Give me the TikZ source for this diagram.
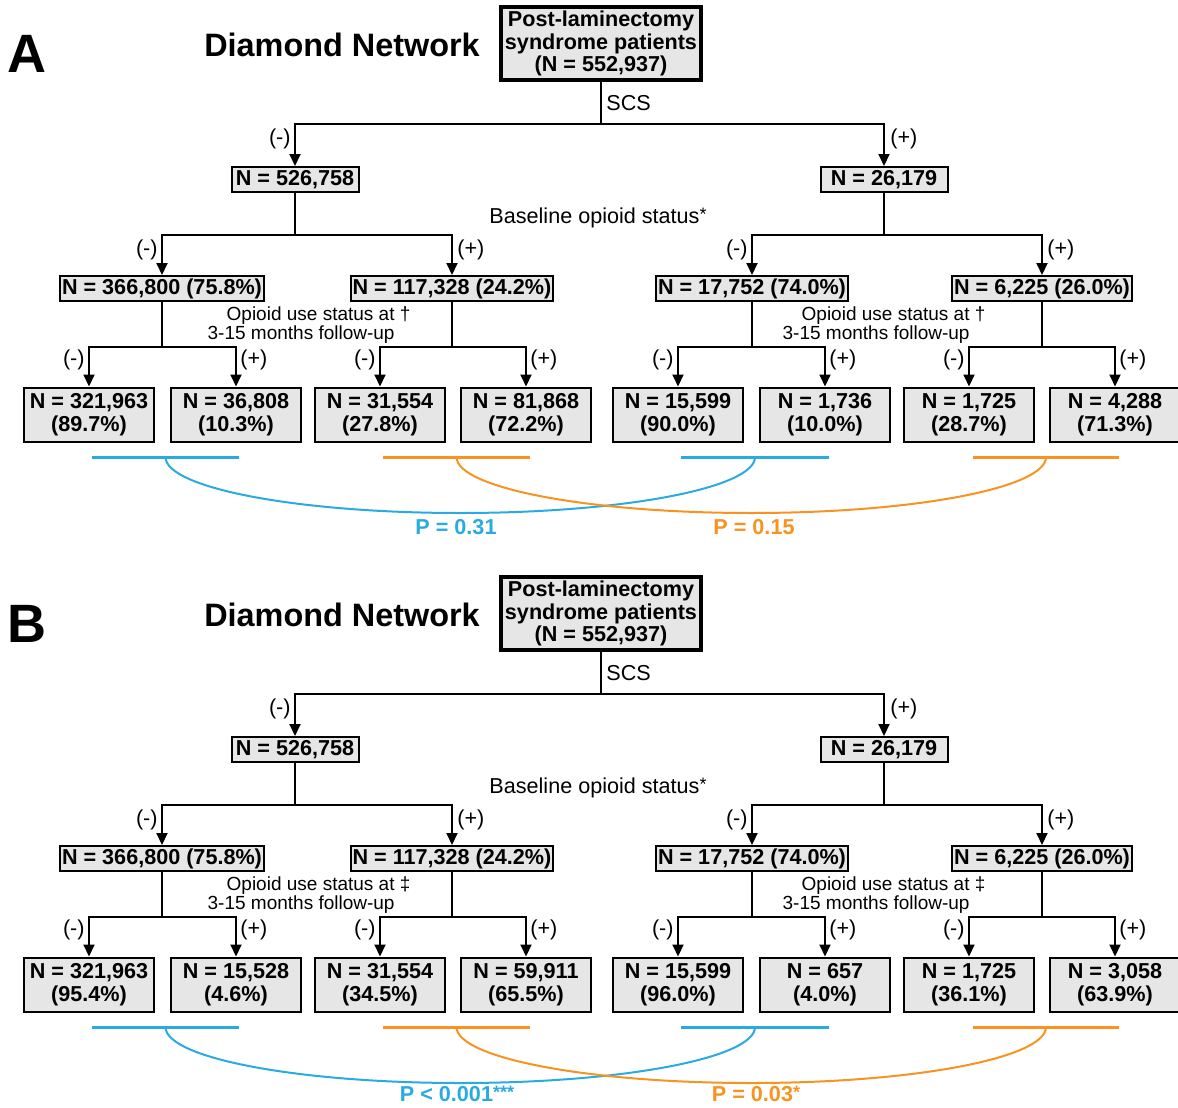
\documentclass[tikz,border=0pt]{standalone}
\usepackage{fontspec}
\setmainfont{Liberation Sans}
\usetikzlibrary{arrows.meta}

\definecolor{boxgray}{HTML}{E6E6E6}
\definecolor{pblue}{HTML}{29ABE2}
\definecolor{porange}{HTML}{F7931E}

\newcommand\upstar[1]{\raisebox{1.8pt}{\fontsize{9}{9}\selectfont #1}}

\tikzset{
	box/.style={draw, fill=boxgray, line width=1pt, inner xsep=1pt, inner ysep=0pt,
		minimum height=12.5pt, font=\fontsize{10.8}{11.2}\selectfont\bfseries},
	scsbox/.style={box, minimum width=63.5pt},
	leaf/.style={box, align=center, minimum width=65pt, minimum height=27pt},
	rootbox/.style={box, align=center, line width=1.6pt, minimum width=100pt, minimum height=36.5pt},
	link/.style={line width=1pt},
	arr/.style={link, -{Triangle[length=6pt,width=5.5pt]}},
	sign/.style={inner sep=0pt, font=\fontsize{10.8}{12}\selectfont},
	note/.style={inner sep=0pt, align=right, font=\fontsize{9.5}{8.5}\selectfont},
	tag/.style={inner sep=0pt, font=\fontsize{27}{30}\selectfont\bfseries},
	title/.style={inner sep=0pt, font=\fontsize{16.2}{18}\selectfont\bfseries},
	pval/.style={inner sep=0pt, font=\fontsize{10.8}{12}\selectfont\bfseries},
	bar/.style={line width=1.5pt},
	pline/.style={line width=1pt}
}

\begin{document}
\begin{tikzpicture}[x=0.5pt, y=-0.5pt]
	\useasboundingbox (0,0) rectangle (1178,1108);

	% shared part of both panels
	\foreach \p/\dy/\mk in {A/0/†, B/570/‡}{
	\begin{scope}[shift={(0,\dy)}]
		\node[tag] (\p-tag) at (27,54) {\p};
		\node[title] (\p-title) at (342,45) {Diamond Network};
		\node[rootbox] (\p-root) at (601,43.5) {Post-laminectomy\\syndrome patients\\(N = 552,937)};
		\node[sign, anchor=west] (\p-scs) at (606,103) {SCS};
		\coordinate (\p-j0) at (601,124);

		\node[scsbox] (\p-n) at (295,179.5) {N = 526,758};
		\node[scsbox] (\p-p) at (884,179.5) {N = 26,179};
		\node[sign, anchor=east] (\p-sn) at (291,139) {(-)};
		\node[sign, anchor=west] (\p-sp) at (890,139) {(+)};
		\node[sign] (\p-base) at (594.5,218) {Baseline opioid status\rlap{\upstar{*}}};
		\coordinate (\p-jn) at (295,235);
		\coordinate (\p-jp) at (884,235);

		\node[box] (\p-b1) at (162,288.5) {N = 366,800 (75.8\%)};
		\node[box] (\p-b2) at (452,288.5) {N = 117,328 (24.2\%)};
		\node[box] (\p-b3) at (752,288.5) {N = 17,752 (74.0\%)};
		\node[box] (\p-b4) at (1042,288.5) {N = 6,225 (26.0\%)};
		\foreach \k/\x in {1/162, 2/452, 3/752, 4/1042}
			\coordinate (\p-k\k) at (\x,347);
		\node[sign, anchor=east] (\p-s1) at (158,250) {(-)};
		\node[sign, anchor=west] (\p-s2) at (457,250) {(+)};
		\node[sign, anchor=east] (\p-s3) at (748,250) {(-)};
		\node[sign, anchor=west] (\p-s4) at (1047,250) {(+)};
		\node[note, anchor=east] (\p-fl) at (395,325) {Opioid use status at\rlap{~\mk}\\3-15 months follow-up};
		\node[note, anchor=east] (\p-fr) at (970,325) {Opioid use status at\rlap{~\mk}\\3-15 months follow-up};

		\draw[link] (\p-root) -- (\p-j0);
		\draw[arr] (\p-j0) -| (\p-n);
		\draw[arr] (\p-j0) -| (\p-p);
		\draw[link] (\p-n) -- (\p-jn);
		\draw[link] (\p-p) -- (\p-jp);
		\draw[arr] (\p-jn) -| (\p-b1);
		\draw[arr] (\p-jn) -| (\p-b2);
		\draw[arr] (\p-jp) -| (\p-b3);
		\draw[arr] (\p-jp) -| (\p-b4);
		\foreach \k in {1,...,4}
			\draw[link] (\p-b\k) -- (\p-k\k);

		% comparison bars and arcs
		\coordinate (\p-m1) at (165.5,457);
		\coordinate (\p-m2) at (456.5,457);
		\draw[bar, pblue] (92,457) -- (239,457);
		\draw[bar, porange] (383,457) -- (530,457);
		\draw[bar, pblue] (681,457) -- (829,457);
		\draw[bar, porange] (973,457) -- (1119,457);
		\draw[pline, pblue] (\p-m1) arc[start angle=180, end angle=0, x radius=294.75, y radius=56];
		\draw[pline, porange] (\p-m2) arc[start angle=180, end angle=0, x radius=294.75, y radius=56];
	\end{scope}
	}

	% follow-up groups
	\foreach \p/\dy/\i/\x/\k/\n/\pc in {
		A/0/1/89/1/{321,963}/89.7, A/0/2/236/1/{36,808}/10.3,
		A/0/3/380/2/{31,554}/27.8, A/0/4/526/2/{81,868}/72.2,
		A/0/5/678/3/{15,599}/90.0, A/0/6/825/3/{1,736}/10.0,
		A/0/7/969/4/{1,725}/28.7, A/0/8/1115/4/{4,288}/71.3,
		B/570/1/89/1/{321,963}/95.4, B/570/2/236/1/{15,528}/4.6,
		B/570/3/380/2/{31,554}/34.5, B/570/4/526/2/{59,911}/65.5,
		B/570/5/678/3/{15,599}/96.0, B/570/6/825/3/{657}/4.0,
		B/570/7/969/4/{1,725}/36.1, B/570/8/1115/4/{3,058}/63.9}{
		\node[leaf] (\p-l\i) at (\x,{414.5+\dy}) {N = \n\\(\pc\%)};
		\draw[arr] (\p-k\k) -| (\p-l\i);
		\ifodd\i
			\node[sign, anchor=east] (\p-t\i) at ({\x-4},{360+\dy}) {(-)};
		\else
			\node[sign, anchor=west] (\p-t\i) at ({\x+4},{360+\dy}) {(+)};
		\fi
	}

	\node[pval, text=pblue] (A-pb) at (456,527) {P = 0.31};
	\node[pval, text=porange] (A-po) at (754,527) {P = 0.15};
	\node[pval, text=pblue] (B-pb) at (457,1094) {P < 0.001\upstar{***}};
	\node[pval, text=porange] (B-po) at (756,1094) {P = 0.03\upstar{*}};
\end{tikzpicture}
\end{document}
